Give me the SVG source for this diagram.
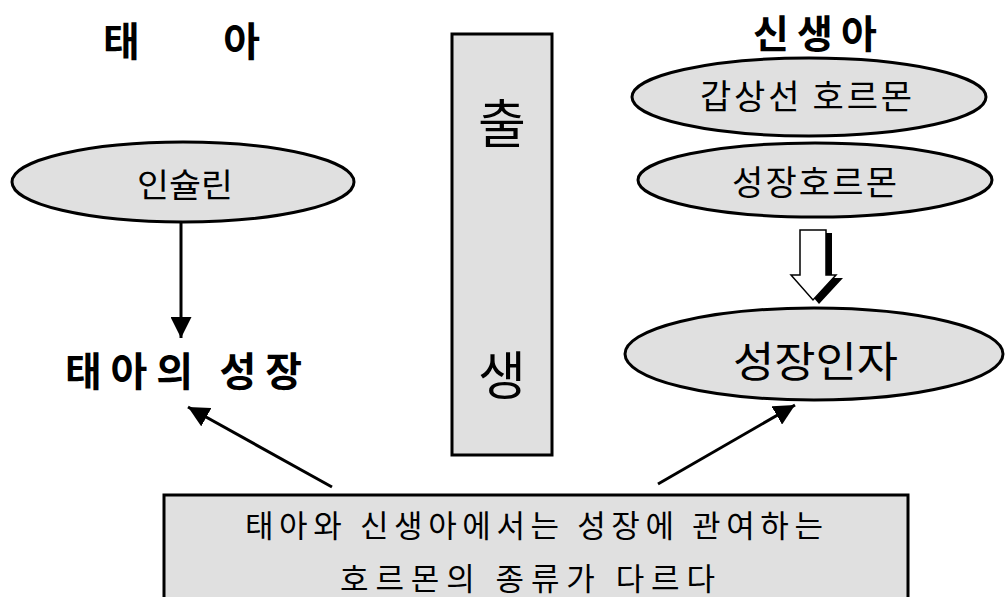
<svg xmlns="http://www.w3.org/2000/svg" width="1005" height="597" viewBox="0 0 1005 597">
<style>
  .node { fill: #e0e0e0; stroke: #000; stroke-width: 3; }
  .t { font-family: "Noto Sans CJK KR", "Noto Sans", sans-serif; fill: #000; }
  .title { font-family: "Noto Sans CJK KR", "Noto Sans", sans-serif; font-weight: bold; fill: #000; }
  .conn { stroke: #000; stroke-width: 3; fill: none; }
</style>
<defs>
  <marker id="ah2" viewBox="0 0 10 10" refX="10" refY="5" markerWidth="7" markerHeight="7" orient="auto">
    <path d="M0,0 L10,5 L0,10 Z" fill="#000"/>
  </marker>
</defs>
<rect width="1005" height="597" fill="#fff"/>

<g id="title-fetus">
  <text class="title" x="103" y="56" font-size="40" textLength="157" lengthAdjust="spacing">태 아</text>
</g>
<g id="title-newborn">
  <text class="title" x="753" y="48" font-size="39" textLength="124" lengthAdjust="spacing">신생아</text>
</g>

<g id="birth">
  <rect class="node" x="452" y="34" width="100" height="421"/>
  <text class="t" x="502" y="143" font-size="52" text-anchor="middle">출</text>
  <text class="t" x="502" y="395" font-size="52" text-anchor="middle">생</text>
</g>

<g id="insulin">
  <ellipse class="node" cx="183" cy="182" rx="171" ry="40"/>
  <text class="t" x="137" y="197" font-size="33" textLength="96" lengthAdjust="spacingAndGlyphs">인슐린</text>
</g>

<g id="fetal-growth">
  <text class="title" x="65" y="386" font-size="40" textLength="237" lengthAdjust="spacing">태아의 성장</text>
</g>

<g id="thyroid">
  <ellipse class="node" cx="809" cy="97" rx="177" ry="39"/>
  <text class="t" x="700" y="109" font-size="34" textLength="212" lengthAdjust="spacing">갑상선 호르몬</text>
</g>

<g id="gh">
  <ellipse class="node" cx="815" cy="180" rx="177" ry="37"/>
  <text class="t" x="732" y="195" font-size="34" textLength="165" lengthAdjust="spacing">성장호르몬</text>
</g>

<g id="growth-factor">
  <ellipse class="node" cx="814" cy="354" rx="189" ry="46"/>
  <text class="t" x="733" y="377" font-size="42" textLength="165" lengthAdjust="spacingAndGlyphs">성장인자</text>
</g>

<g id="note">
  <rect class="node" x="164" y="495" width="744" height="110"/>
  <text class="t" x="245" y="537" font-size="31" textLength="578" lengthAdjust="spacing">태아와 신생아에서는 성장에 관여하는</text>
  <text class="t" x="340" y="590" font-size="31" textLength="375" lengthAdjust="spacing">호르몬의 종류가 다르다</text>
</g>

<g id="connectors">
  <line class="conn" x1="181" y1="222" x2="181" y2="338" marker-end="url(#ah2)"/>
  <line class="conn" x1="332" y1="487" x2="188" y2="407" marker-end="url(#ah2)"/>
  <line class="conn" x1="658" y1="484" x2="795" y2="405" marker-end="url(#ah2)"/>
  <path d="M806,233 L832,233 L832,278 L843,278 L819,304 L797,278 L806,278 Z" fill="#000"/>
  <path d="M800,230 L826,230 L826,275 L836,275 L813,300 L791,275 L800,275 Z" fill="#fff" stroke="#000" stroke-width="1.5"/>
</g>
</svg>
